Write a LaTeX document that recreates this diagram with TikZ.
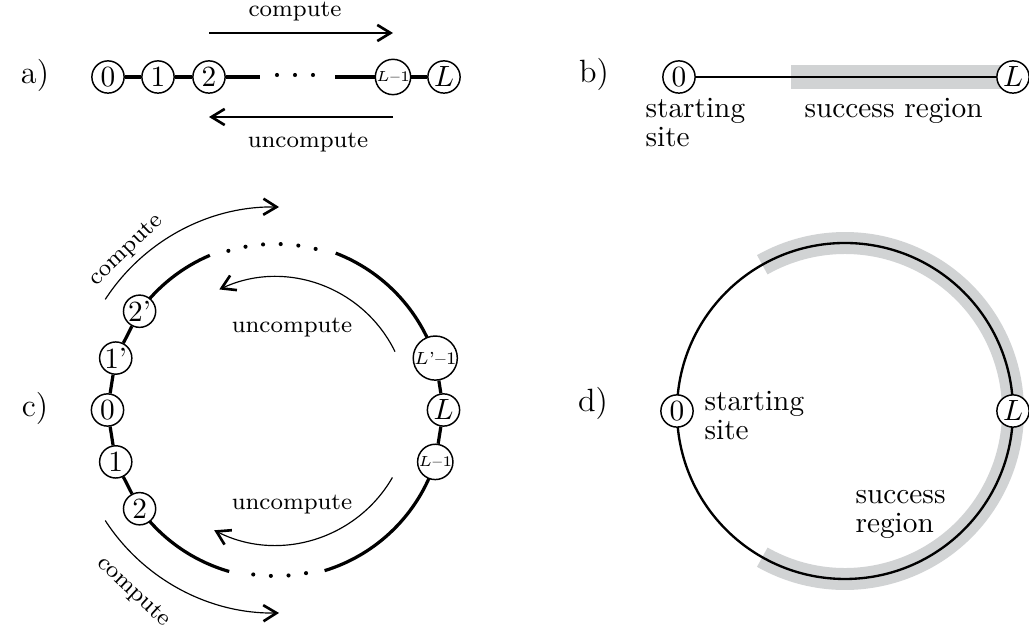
\documentclass[tikz,border=0pt]{standalone}
\usetikzlibrary{arrows.meta,calc,backgrounds}
\definecolor{bandgray}{RGB}{209,211,212}
\begin{document}
\begin{tikzpicture}[
    x=0.012cm, y=0.012cm,
    site/.style={circle, draw, fill=white, line width=0.5pt, inner sep=0pt, minimum size=11pt},
    chain/.style={line width=1.1pt},
    arr/.style={line width=0.4pt, -{Straight Barb[length=4.5pt,width=5.5pt,line width=0.9pt]}},
    lab/.style={font=\fontsize{11}{13}\selectfont},
    note/.style={font=\footnotesize},
    txt/.style={align=left, inner sep=0pt, anchor=base west},
    band/.style={bandgray, line width=#1},
  ]
  \useasboundingbox (0,0) rectangle (1029,634);

  % a) open chain
  \node[lab] (la) at (35,559) {a)};
  \node[site] (a0) at (108,557) {0};
  \node[site] (a1) at (158,557) {1};
  \node[site] (a2) at (209,557) {2};
  \node[site] (aL1) at (393,557) {\tiny$L$--1};
  \node[site] (aL) at (444,557) {$L$};
  \coordinate (agapl) at (260,557);
  \coordinate (agapr) at (335,557);
  \draw[chain] (a0) -- (a1) -- (a2) -- (agapl);
  \draw[chain] (agapr) -- (aL1) -- (aL);
  \foreach \x in {277,295,313}
    \fill (\x,559) circle (0.7pt);
  \draw[arr] ($(a2)+(0,44)$) -- ($(aL1)+(0,44)$);
  \draw[arr] ($(aL1)+(0,-40)$) -- ($(a2)+(0,-40)$);
  \node[note] (ca) at (295,622) {compute};
  \node[note] (ua) at (308,491) {uncompute};

  % b) line with success region
  \node[lab] (lb) at (594,560) {b)};
  \node[site] (b0) at (679,557) {0};
  \node[site] (bL) at (1013,557) {$L$};
  \coordinate (bs) at (791,557);
  \begin{scope}[on background layer]
    \draw[band=8pt] (bs) -- (bL.center);
  \end{scope}
  \draw[line width=0.9pt] (b0) -- (bL);
  \node[txt] (sb) at (645,487) {starting\\[-2pt]site};
  \node[txt] (rb) at (804,516) {success region};

  % c) ring
  \coordinate (cc) at (275.5,224);
  \node[lab] (lc) at (35,226) {c)};
  \node[site] (c2p) at ($(cc)+(144:168)$) {2'};
  \node[site] (c1p) at ($(cc)+(162:168)$) {1'};
  \node[site] (c0) at ($(cc)+(180:168)$) {0};
  \node[site] (c1) at ($(cc)+(198:168)$) {1};
  \node[site] (c2) at ($(cc)+(216:168)$) {2};
  \node[site] (cLp) at ($(cc)+(18:168)$) {\fontsize{6}{7}\selectfont$L$'--1};
  \node[site] (cL) at ($(cc)+(0:168)$) {$L$};
  \node[site] (cL1) at ($(cc)+(-18:168)$) {\tiny$L$--1};
  \begin{scope}[on background layer]
    \draw[chain] ($(cc)+(144:168)$) arc[start angle=144, end angle=113, radius=168];
    \draw[chain] ($(cc)+(18:168)$) arc[start angle=18, end angle=69, radius=168];
    \draw[chain] ($(cc)+(216:168)$) arc[start angle=216, end angle=254, radius=168];
    \draw[chain] ($(cc)+(-18:168)$) arc[start angle=-18, end angle=-73, radius=168];
  \end{scope}
  \draw[chain] (c2p) -- (c1p) -- (c0) -- (c1) -- (c2);
  \draw[chain] (cLp) -- (cL) -- (cL1);
  \foreach \i in {0,...,5}
    \fill ($(cc)+({106.5-6.1*\i}:166)$) circle (0.7pt);
  \foreach \i in {0,...,3}
    \fill ($(cc)+({262.3+6.1*\i}:166)$) circle (0.7pt);
  \draw[arr] ($(cc)+(147:203)$) arc[start angle=147, end angle=89, radius=203];
  \draw[arr] ($(cc)+(26:133)$) arc[start angle=26, end angle=115, radius=133];
  \draw[arr] ($(cc)+(-30:135)$) arc[start angle=-30, end angle=-117, radius=135];
  \draw[arr] ($(cc)+(213:203)$) arc[start angle=213, end angle=271, radius=203];
  \node[note, rotate=44] (cct) at ($(cc)+(133:218)$) {compute};
  \node[note, rotate=-43] (ccb) at ($(cc)+(232:231)$) {compute};
  \node[note] (cut) at (292,306) {uncompute};
  \node[note] (cub) at (292,129) {uncompute};

  % d) ring with success region
  \coordinate (dc) at (845,223);
  \node[lab] (ld) at (593,231) {d)};
  \node[site] (d0) at ($(dc)+(180:168)$) {0};
  \node[site] (dL) at ($(dc)+(0:168)$) {$L$};
  \begin{scope}[on background layer]
    \draw[band=7.5pt] ($(dc)+(-119.5:168)$) arc[start angle=-119.5, end angle=119.5, radius=168];
    \draw[line width=0.8pt] (dc) circle[radius=168];
  \end{scope}
  \node[txt] (sd) at (704,194) {starting\\[-2pt]site};
  \node[txt] (rd) at (855,101) {success\\[-2pt]region};
\end{tikzpicture}
\end{document}
